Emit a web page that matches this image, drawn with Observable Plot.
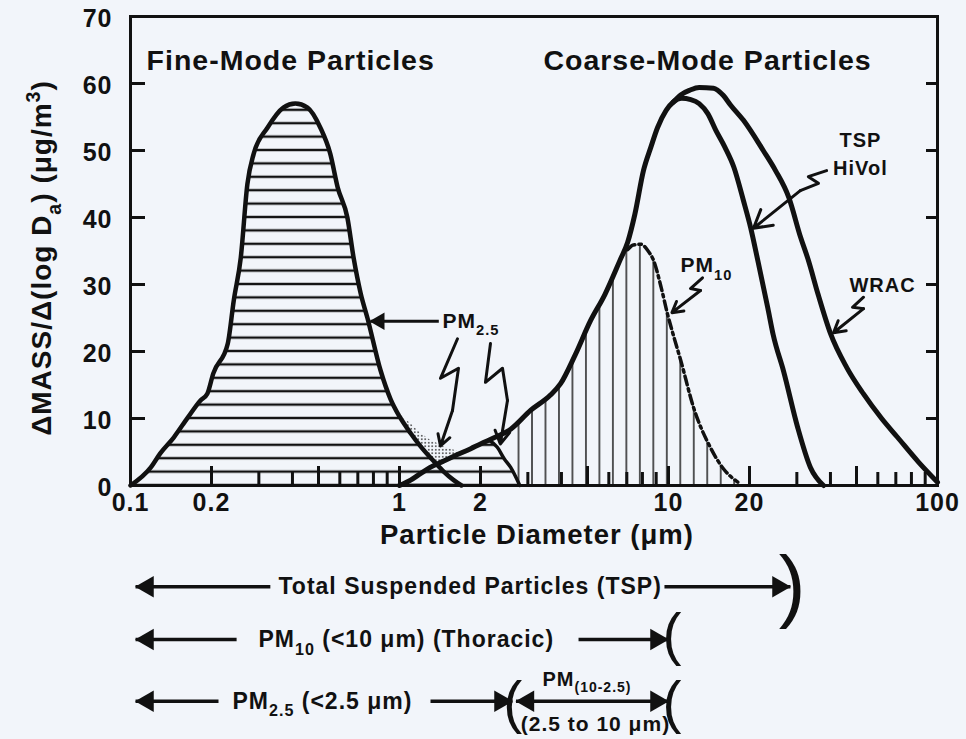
<!DOCTYPE html>
<html>
<head>
<meta charset="utf-8">
<script src="https://cdn.jsdelivr.net/npm/d3@7"></script>
<script src="https://cdn.jsdelivr.net/npm/@observablehq/plot@0.6"></script>
<style>
  html, body { margin: 0; padding: 0; background: #f2f5fa; }
  #chart svg { display: block; }
</style>
</head>
<body>
<div id="chart"></div>
<script>
// ---------------- data ----------------
// Fine mode (PM2.5 distribution), diameter (µm) and ΔMASS/Δ(log Da)
const fineD = [0.1, 0.119, 0.129, 0.145, 0.163, 0.182, 0.193, 0.203, 0.23, 0.242, 0.257, 0.272, 0.287, 0.323, 0.37, 0.41, 0.455, 0.508, 0.553, 0.589, 0.64, 0.675, 0.717, 0.76, 0.85, 0.926, 1.0, 1.1, 1.2, 1.3, 1.45, 1.59, 1.7];
const fineV = [0, 2.7, 4.8, 7.2, 10.1, 12.7, 13.7, 16.7, 21.2, 27.6, 34, 45, 49.5, 53.4, 56.4, 57, 56.4, 53.4, 49.5, 44.5, 40, 34, 28.7, 25, 17.2, 12.9, 10.3, 7.8, 5.8, 4.2, 2.2, 0.8, 0];

// Coarse mode as sampled by TSP HiVol
const coarseD = [1.0, 1.1, 1.2, 1.3, 1.45, 1.6, 1.84, 2.0, 2.3, 2.59, 3.07, 3.64, 3.97, 4.5, 5.13, 5.8, 6.6, 7.05, 7.5, 8.07, 8.6, 9.1, 9.8, 10.4, 11.2, 12.1, 13, 14, 15, 16.2, 17.5, 19, 20.2, 21.5, 23.4, 24.5, 26.8, 30.2, 33.7, 37.7];
const coarseV = [0, 0.8, 1.8, 2.7, 3.6, 4.4, 5.5, 6.2, 7.3, 8.4, 11.2, 13.5, 15.2, 19.5, 24.6, 28.5, 33.6, 36.3, 40.5, 47, 50.5, 53.4, 56, 57.2, 57.8, 57.6, 57, 55.5, 53, 50.5, 47.5, 42.5, 38.5, 33.5, 26.5, 22.5, 17, 8.7, 2.7, 0];

// Coarse mode as sampled by WRAC (branches off the common rising side)
const wracD = [10.4, 11.1, 12, 13, 14.7, 16, 17, 19, 22.5, 25, 28, 31, 33, 36, 40, 46, 53, 62, 71, 85, 100];
const wracV = [57.2, 58.3, 59, 59.4, 59.3, 58.2, 56.8, 54.5, 50, 47, 43, 37, 33.8, 28.5, 22.7, 17.6, 13.7, 10, 7.2, 3.5, 0.5];

// PM10 sampler curve (coarse part, 2.5 µm upward)
const pm10D = [2.5, 2.59, 3.07, 3.64, 3.97, 4.5, 5.13, 5.8, 6.6, 7.05, 7.4, 7.9, 8.4, 8.8, 9.4, 9.9, 10.5, 11.1, 12.4, 14.3, 16, 18.1];
const pm10V = [8.1, 8.4, 11.2, 13.5, 15.2, 19.5, 24.6, 28.5, 33.6, 35.2, 35.9, 36, 35, 33.6, 29.5, 25.7, 22, 18.7, 11.6, 5.7, 2.5, 0.5];

// Coarse tail collected with PM2.5 and the PM2.5 cut curve
const tailD = [1.0, 1.1, 1.2, 1.3, 1.45, 1.6, 1.84, 2.0, 2.15, 2.31, 2.45, 2.59, 2.8];
const tailV = [0, 0.8, 1.8, 2.7, 3.6, 4.4, 5.5, 6.2, 6.8, 5.7, 4.0, 2.7, 0];
const cutD = [2.15, 2.31, 2.45, 2.59, 2.8];
const cutV = [6.8, 5.7, 4.0, 2.7, 0];

// Intermodal overlap (stippled)
const stipD = [1.0, 1.08, 1.2, 1.3, 1.38, 1.5, 1.59, 1.7];
const stipLow = [10.3, 8.3, 5.8, 4.2, 3.4, 3.8, 4.4, 4.8];
const stipHigh = [10.3, 9.5, 7.8, 6.8, 6.3, 5.6, 5.3, 4.8];

// Axis ticks and labels
const xTickLabels = [0.1, 0.2, 0.5, 1, 2, 5, 10, 20, 50, 100];
const xMajorTicks = [0.2, 0.5, 1, 2, 5, 10, 20, 50];
const xMinorTicks = [0.3, 0.4, 0.6, 0.7, 0.8, 0.9, 3, 4, 6, 7, 8, 9, 30, 40, 60, 70, 80, 90];
const yTickLabels = [0, 10, 20, 30, 40, 50, 60, 70];
const yInnerTicks = [10, 20, 30, 40, 50, 60];

// Texts
const xTitle = "Particle Diameter (μm)";
const yTitle = "ΔMASS/Δ(log D_{a}) (μg/m^{3})";
const modeTitles = ["Fine-Mode Particles", "Coarse-Mode Particles"];
const modeTitleD = [0.394, 13.97];
const modeTitleV = [63.4, 63.4];

const curveLabels = ["TSP", "HiVol", "WRAC"];
const curveLabelD = [51.7, 51.7, 62.5];
const curveLabelV = [51.5, 47.3, 29.9];
const pmLabels = ["PM_{10}", "PM_{2.5}"];
const pmLabelD = [11.08, 1.445];
const pmLabelV = [32.8, 24.5];

// squiggle pointers (lightning-shaped leaders) and their arrow tips
const sqNames = ["pm25a", "pm25b", "pm10", "tsp", "wrac"];
const sqD = [[1.643, 1.42, 1.657, 1.574], [2.179, 2.087, 2.415, 2.52], [13.38, 12.07, 13.15], [38.7, 33.1, 36.1, 30.9], [53.1, 48.3, 53.1]];
const sqV = [[21.9, 16.0, 17.5, 11.2], [21.2, 15.4, 17.5, 12.7], [31.0, 29.4, 29.1], [47.0, 46.1, 45.1, 44.0], [28.1, 26.6, 26.4]];
const sqTipD = [1.42, 2.37, 10.3, 20.7, 41.06];
const sqTipV = [5.9, 6.2, 25.8, 38.4, 22.8];
const pm25PointerD = [1.40, 0.78];
const pm25PointerV = [24.5, 24.5];

// Size-range bars beneath the axis
const rowLabels = ["Total Suspended Particles (TSP)", "PM_{10} (<10 μm) (Thoracic)", "PM_{2.5} (<2.5 μm)"];
const rowLabelD = [0.355, 0.299, 0.2394];
const rowV = [-15.1, -23.0, -32.2];
const shaftFromD = [0.331, 9.66, 0.248, 4.63, 0.2124, 1.304, 2.71];
const shaftToD = [0.1044, 28.4, 0.1044, 10.0, 0.1044, 2.63, 10.0];
const shaftV = [-15.1, -15.1, -23.0, -23.0, -32.2, -32.2, -32.2];
const headRightD = [28.4, 10.0, 2.63, 10.0];
const headRightV = [-15.1, -23.0, -32.2, -32.2];
const headLeftD = [0.1044, 0.1044, 0.1044, 2.71];
const headLeftV = [-15.1, -23.0, -32.2, -32.2];
const braceText = [")", "(", "(", "("];
const braceD = [28.9, 10.35, 2.65, 10.35];
const braceV = [-15.05, -22.4, -32.6, -32.6];
const coarseFracLabels = ["PM_{(10-2.5)}", "(2.5 to 10 μm)"];
const coarseFracD = [3.40, 5.35];
const coarseFracV = [-28.9, -35.7];

// ---------------- chart ----------------
const INK = "#111";
const BG = "#f2f5fa";
const curve = "monotone-x";
const pts = (xs, ys) => xs.map((x, i) => ({x, y: ys[i]}));

const fine = pts(fineD, fineV);
const coarse = pts(coarseD, coarseV);
const wrac = pts(wracD, wracV);
const pm10 = pts(pm10D, pm10V);
const pm10Dash = pm10.filter(d => d.x >= 7);
const tail = pts(tailD, tailV);
const cut = pts(cutD, cutV);
const stip = stipD.map((x, i) => ({x, lo: stipLow[i], hi: stipHigh[i]}));
const squiggles = sqNames.flatMap((n, k) => sqD[k].map((x, i) => ({n, x, y: sqV[k][i]})));
const sqArrows = sqNames.map((n, k) => ({x1: sqD[k][sqD[k].length - 1], y1: sqV[k][sqV[k].length - 1], x2: sqTipD[k], y2: sqTipV[k]}));
const modeT = modeTitles.map((t, i) => ({t, x: modeTitleD[i], y: modeTitleV[i]}));
const curveT = curveLabels.map((t, i) => ({t, x: curveLabelD[i], y: curveLabelV[i]}));
const pmT = pmLabels.map((t, i) => ({t, x: pmLabelD[i], y: pmLabelV[i]}));
const rowT = rowLabels.map((t, i) => ({t, x: rowLabelD[i], y: rowV[i]}));
const shafts = shaftFromD.map((x1, i) => ({x1, x2: shaftToD[i], y: shaftV[i]}));
const headsR = pts(headRightD, headRightV);
const headsL = pts(headLeftD, headLeftV);
const braces = braceText.map((t, i) => ({t, x: braceD[i], y: braceV[i]}));
const fracT = coarseFracLabels.map((t, i) => ({t, x: coarseFracD[i], y: coarseFracV[i]}));

const chart = Plot.plot({
  width: 966, height: 739,
  marginLeft: 130, marginRight: 29, marginTop: 16, marginBottom: 254,
  x: {type: "log", domain: [0.1, 100], label: null},
  y: {domain: [0, 70], label: null},
  style: {background: BG, color: INK, fontFamily: "'Liberation Sans', Arial, Helvetica, sans-serif", fontWeight: "bold", fontSize: "25px", letterSpacing: "1px"},
  marks: [
    // hatched / stippled regions
    Plot.areaY(fine, {x: "x", y: "y", fill: "url(#hatchH)", curve}),
    Plot.areaY(tail, {x: "x", y: "y", fill: "url(#hatchH)", curve}),
    Plot.areaY(pm10, {x: "x", y: "y", fill: "url(#hatchV)", curve}),
    Plot.areaY(stip, {x: "x", y1: "lo", y2: "hi", fill: BG, curve}),
    Plot.areaY(stip, {x: "x", y1: "lo", y2: "hi", fill: "url(#dots)", curve}),
    // curves
    Plot.line(cut, {x: "x", y: "y", stroke: INK, strokeWidth: 3.5, curve}),
    Plot.line(pm10Dash, {x: "x", y: "y", stroke: INK, strokeWidth: 3.5, strokeDasharray: "9,4,2.5,4", curve}),
    Plot.line(fine, {x: "x", y: "y", stroke: INK, strokeWidth: 4.5, curve}),
    Plot.line(coarse, {x: "x", y: "y", stroke: INK, strokeWidth: 5, curve}),
    Plot.line(wrac, {x: "x", y: "y", stroke: INK, strokeWidth: 5, curve}),
    // frame and axes
    Plot.frame({stroke: INK, strokeWidth: 3}),
    Plot.axisY({ticks: yInnerTicks, anchor: "left", tickSize: -15, strokeWidth: 3, tickFormat: () => "", label: null}),
    Plot.axisY({ticks: yInnerTicks, anchor: "right", tickSize: -12, strokeWidth: 3, tickFormat: () => "", label: null}),
    Plot.axisY({ticks: yTickLabels, anchor: "left", tickSize: 0, tickPadding: 18, label: null, dy: 2}),
    Plot.axisX({ticks: xMajorTicks, tickSize: -19, strokeWidth: 3, tickFormat: () => "", label: null}),
    Plot.axisX({ticks: xMinorTicks, tickSize: -13, strokeWidth: 3, tickFormat: () => "", label: null}),
    Plot.axisX({ticks: xTickLabels, tickSize: 0, tickPadding: 8, tickFormat: d => String(d), label: null}),
    // axis titles
    Plot.text([yTitle], {frameAnchor: "left", dx: -88, dy: 7, rotate: -90, fontSize: 28, textAnchor: "middle", lineAnchor: "middle"}),
    Plot.text([xTitle], {frameAnchor: "bottom", dy: 50, dx: 3, fontSize: 27.5, textAnchor: "middle", lineAnchor: "middle"}),
    // in-plot labels
    Plot.text(modeT, {x: "x", y: "y", text: "t", fontSize: 28.5}),
    Plot.text(curveT, {x: "x", y: "y", text: "t", fontSize: 20}),
    Plot.text(pmT, {x: "x", y: "y", text: "t", fontSize: 21, textAnchor: "start"}),
    // leaders
    Plot.line(squiggles, {x: "x", y: "y", z: "n", stroke: INK, strokeWidth: 3}),
    Plot.arrow(sqArrows, {x1: "x1", y1: "y1", x2: "x2", y2: "y2", stroke: INK, strokeWidth: 3, headLength: 12}),
    Plot.link([0], {x1: () => pm25PointerD[0], x2: () => pm25PointerD[1], y1: () => pm25PointerV[0], y2: () => pm25PointerV[1], stroke: INK, strokeWidth: 3}),
    Plot.dot([0], {x: () => pm25PointerD[1], y: () => pm25PointerV[1], symbol: "triangle", rotate: -90, r: 6.5, fill: INK, dx: 9}),
    // size-range bars
    Plot.link(shafts, {x1: "x1", x2: "x2", y1: "y", y2: "y", stroke: INK, strokeWidth: 3.5}),
    Plot.dot(headsR, {x: "x", y: "y", symbol: "triangle", rotate: 90, r: 8, fill: INK, dx: -12}),
    Plot.dot(headsL, {x: "x", y: "y", symbol: "triangle", rotate: -90, r: 8, fill: INK, dx: 12}),
    Plot.text(braces.slice(0, 1), {x: "x", y: "y", text: "t", fontSize: 80, fontWeight: "normal", fill: INK}),
    Plot.text(braces.slice(1), {x: "x", y: "y", text: "t", fontSize: 57, fontWeight: "normal", fill: INK}),
    Plot.text(rowT, {x: "x", y: "y", text: "t", fontSize: 23, textAnchor: "start"}),
    Plot.text(fracT.slice(0, 1), {x: "x", y: "y", text: "t", fontSize: 20, textAnchor: "start"}),
    Plot.text(fracT.slice(1), {x: "x", y: "y", text: "t", fontSize: 21})
  ]
});

document.getElementById("chart").append(chart);

// ---- fill patterns, aligned with the scales ----
const xs = chart.scale("x"), ys = chart.scale("y");
const X = xs.apply ? (v) => xs.apply(v) : d3.scaleLog(xs.domain, xs.range);
const Y = ys.apply ? (v) => ys.apply(v) : d3.scaleLinear(ys.domain, ys.range);
const svg = d3.select(chart);
const defs = svg.insert("defs", ":first-child");
const hh = Y(0) - Y(2);
const pH = defs.append("pattern").attr("id", "hatchH").attr("patternUnits", "userSpaceOnUse")
  .attr("x", 0).attr("y", Y(0) - hh / 2).attr("width", 40).attr("height", hh);
pH.append("line").attr("x1", 0).attr("x2", 40).attr("y1", hh / 2).attr("y2", hh / 2).attr("stroke", INK).attr("stroke-width", 2.2);
const vw = 13.48;
const pV = defs.append("pattern").attr("id", "hatchV").attr("patternUnits", "userSpaceOnUse")
  .attr("x", X(2.5) - 1 - vw / 2).attr("y", 0).attr("width", vw).attr("height", 40);
pV.append("line").attr("x1", vw / 2).attr("x2", vw / 2).attr("y1", 0).attr("y2", 40).attr("stroke", "#222").attr("stroke-width", 1.5);
const pD = defs.append("pattern").attr("id", "dots").attr("patternUnits", "userSpaceOnUse")
  .attr("width", 3.5).attr("height", 3.5);
pD.append("circle").attr("cx", 1.75).attr("cy", 1.75).attr("r", 0.9).attr("fill", "#333");

// ---- subscripts / superscripts ----
(function richText(svgEl) {
  const NS = "http://www.w3.org/2000/svg";
  svgEl.querySelectorAll("text").forEach(el => {
    const raw = el.textContent;
    if (!/[_^]\{/.test(raw)) return;
    const fs = parseFloat(getComputedStyle(el).fontSize) || 20;
    while (el.firstChild) el.removeChild(el.firstChild);
    let shift = 0;
    raw.split(/([_^]\{[^}]*\})/).forEach(part => {
      if (!part) return;
      const ts = document.createElementNS(NS, "tspan");
      let target = 0, txt = part, small = false;
      if (part.startsWith("_{")) { target = 0.34 * fs; txt = part.slice(2, -1); small = true; }
      else if (part.startsWith("^{")) { target = -0.42 * fs; txt = part.slice(2, -1); small = true; }
      const d = target - shift;
      if (d) ts.setAttribute("dy", d.toFixed(2));
      shift = target;
      if (small) ts.setAttribute("font-size", (0.7 * fs).toFixed(1));
      ts.textContent = txt;
      el.appendChild(ts);
    });
  });
})(chart);
</script>
</body>
</html>
